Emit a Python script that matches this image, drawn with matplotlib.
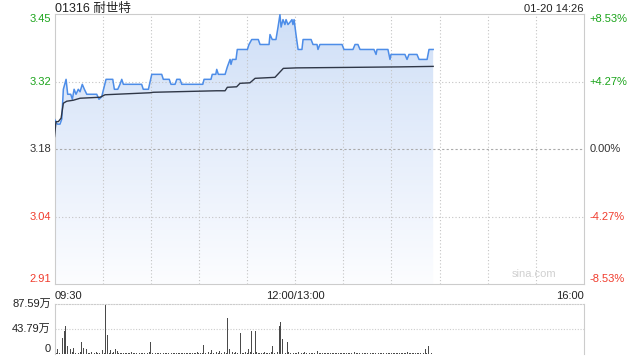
import numpy as np
import matplotlib.pyplot as plt
from matplotlib.patches import Polygon

plt.rcParams['font.family'] = ['Liberation Sans', 'Noto Sans CJK SC', 'DejaVu Sans']

# quote info
code_name = "01316 耐世特"
stamp = "01-20 14:26"
prev_close = 3.18
pct_range = 0.0853

# minute index (09:30 = 0, lunch removed) and last price
price_t = [0, 1.7, 3.4, 4.5, 5.5, 7.2, 8.2, 10.1, 11.1, 12.2, 13.4, 14.8, 15.9, 17.3, 18.6,
           20.1, 26.3, 27.7, 29.4, 32.1, 36.3, 37.3, 39.4, 40.8, 41.9, 42.9, 54.3, 55.3, 58.5,
           60.6, 66.8, 67.8, 71.5, 72.6, 75.1, 76.2, 78.2, 79.3, 92.4, 93.2, 97.5, 98.3, 100.5,
           101.1, 102.1, 106.3, 107.7, 109.4, 110, 110.8, 113.1, 113.9, 120.2, 121.2, 122.9,
           127, 128.1, 133.7, 134.3, 135.7, 138, 139.3, 140.5, 141.2, 142.4, 143.6, 144.3,
           145.5, 146.8, 148, 148.6, 149.3, 150.5, 151.8, 154.2, 154.9, 159.9, 161.1, 163.6,
           164.2, 165.4, 179.2, 180.4, 186, 187.3, 189.1, 190.4, 199.1, 200.4, 201, 207.8,
           209.1, 209.7, 218.4, 219.7, 220.9, 225.9, 227.2, 232.2, 233.4, 236]
price_v = [3.24, 3.23, 3.23, 3.24, 3.30, 3.32, 3.29, 3.29, 3.28, 3.30, 3.29, 3.30, 3.295, 3.31, 3.30,
           3.29, 3.29, 3.28, 3.285, 3.32, 3.32, 3.30, 3.30, 3.31, 3.32, 3.31, 3.31, 3.30, 3.30,
           3.33, 3.33, 3.32, 3.32, 3.31, 3.31, 3.32, 3.32, 3.31, 3.31, 3.32, 3.32, 3.33, 3.33,
           3.34, 3.33, 3.33, 3.345, 3.36, 3.35, 3.36, 3.36, 3.38, 3.38, 3.39, 3.40,
           3.40, 3.39, 3.39, 3.41, 3.40, 3.40, 3.425, 3.45, 3.425, 3.44, 3.43, 3.44,
           3.43, 3.435, 3.44, 3.43, 3.44, 3.41, 3.38, 3.38, 3.40, 3.40, 3.39, 3.39,
           3.38, 3.39, 3.39, 3.38, 3.38, 3.39, 3.39, 3.38, 3.38, 3.37, 3.38, 3.38,
           3.36, 3.37, 3.37, 3.36, 3.37, 3.37, 3.36, 3.36, 3.38, 3.38]

# average price line
avg_t = [0, 0.9, 2.4, 4.1, 5.5, 7.6, 11.7, 15.9, 28.4, 31.5, 59.5, 61.6, 101, 106.3, 107.7,
         113.5, 115.6, 121.8, 125, 137.4, 142.6, 150.9, 184.2, 215.3, 236]
avg_v = [3.205, 3.235, 3.235, 3.242, 3.272, 3.276, 3.278, 3.282, 3.284, 3.289, 3.293, 3.294,
         3.297, 3.297, 3.304, 3.305, 3.312, 3.313, 3.322, 3.324, 3.342, 3.343, 3.344, 3.345, 3.346]

# volume per minute, in 万
volume = [5, 3, 10, 2, 3, 29, 40, 50, 14, 3, 10, 4, 12, 3, 8, 2, 4, 21, 11, 4,
          9, 3, 2, 4, 3, 2, 5, 3, 2, 3, 8, 2, 87, 34, 3, 7, 2, 4, 10, 6,
          3, 2, 3, 2, 2, 3, 2, 2, 5, 3, 2, 2, 3, 2, 2, 3, 2, 2, 3, 4,
          22, 3, 49, 3, 2, 2, 3, 2, 2, 3, 2, 2, 3, 2, 2, 3, 2, 2, 3, 2,
          2, 3, 2, 2, 3, 2, 2, 3, 2, 4, 2, 3, 2, 17, 3, 2, 4, 2, 8, 3,
          2, 4, 3, 6, 3, 2, 4, 3, 64, 10, 3, 4, 2, 5, 3, 21, 38, 3, 2, 4,
          3, 9, 4, 41, 3, 40, 5, 3, 2, 3, 2, 4, 2, 3, 2, 4, 14, 3, 2, 4,
          50, 56, 27, 21, 3, 21, 4, 3, 2, 3, 3, 2, 5, 3, 2, 3, 5, 2, 3, 2,
          3, 2, 2, 3, 6, 2, 3, 2, 2, 3, 2, 2, 3, 2, 2, 3, 2, 2, 3, 2,
          2, 3, 2, 2, 3, 2, 3, 5, 2, 3, 2, 2, 3, 2, 2, 3, 2, 2, 3, 2,
          2, 3, 2, 2, 3, 2, 2, 3, 2, 2, 3, 2, 2, 3, 2, 2, 3, 2, 2, 3,
          4, 2, 3, 2, 2, 3, 2, 2, 3, 2, 2, 9, 3, 14, 7, 2, 1]
vol_ticks = [0, 43.79, 87.59]
vol_labels = ["0", "43.79万", "87.59万"]

x_labels = ["09:30", "12:00/13:00", "16:00"]

green = "#1ba41b"
red = "#f03c2d"
grey = "#cccccc"

fig = plt.figure(figsize=(6.4, 3.6), dpi=100)
ax = fig.add_axes([0.0852, 0.2111, 0.8273, 0.75])
av = fig.add_axes([0.0852, 0.0153, 0.8273, 0.1403])

lo = prev_close * (1 - pct_range)
hi = prev_close * (1 + pct_range)
ax.set_xlim(0, 330)
ax.set_ylim(lo, hi)

# gradient fill under price
poly = Polygon(list(zip(price_t, price_v)) + [(price_t[-1], lo), (price_t[0], lo)],
               closed=True, facecolor='none', edgecolor='none')
ax.add_patch(poly)
grad = np.linspace(0, 1, 256).reshape(-1, 1)
cmap = plt.matplotlib.colors.LinearSegmentedColormap.from_list(
    "f", ["#fcfdff", "#e6eefb", "#cfdff7"])
im = ax.imshow(grad, extent=[0, 330, lo, hi], origin='lower', aspect='auto',
               cmap=cmap, zorder=1)
im.set_clip_path(poly)

ax.plot(price_t, price_v, color="#4d8de8", lw=1.1, zorder=3)
ax.plot(avg_t, avg_v, color="#2f3747", lw=1.0, zorder=3)

# grid, drawn over the fill
for k in range(1, 11):
    ax.axvline(k * 30, color="#c4c4c4", lw=0.8, ls=(0, (1, 2)), zorder=2)
levels = [prev_close * (1 + pct_range * f) for f in (1, 0.5, 0, -0.5, -1)]
for i, lv in enumerate(levels):
    if i in (1, 3):
        ax.axhline(lv, color="#c4c4c4", lw=0.8, ls=(0, (1, 2)), zorder=2)
    elif i == 2:
        ax.axhline(lv, color="#aaaaaa", lw=0.8, ls=(0, (2, 2)), zorder=2)

for s in ax.spines.values():
    s.set_color(grey)
ax.set_xticks([])
ax.set_yticks([])

left_txt = ["%.2f" % lv for lv in levels]
right_txt = ["+8.53%", "+4.27%", "0.00%", "-4.27%", "-8.53%"]
cols = [green, green, "#333333", red, red]
vas = ["top", "center", "center", "center", "bottom"]
tr = ax.get_yaxis_transform()
for lv, lt, rt, c, va in zip(levels, left_txt, right_txt, cols, vas):
    ax.text(-0.007, lv, lt, transform=tr, ha='right', va=va, color=c, fontsize=8)
    ax.text(1.011, lv, rt, transform=tr, ha='left', va=va, color=c, fontsize=8)

ax.text(0, 1.009, code_name, transform=ax.transAxes, ha='left', va='baseline',
        fontsize=9, color="#222222")
ax.text(1, 1.009, stamp, transform=ax.transAxes, ha='right', va='baseline',
        fontsize=8, color="#222222")
ax.text(0.905, 0.018, "sina.com", transform=ax.transAxes, ha='center', va='bottom',
        fontsize=8, color="#d0d0d0")

ax.text(0, -0.025, x_labels[0], transform=ax.transAxes, ha='left', va='top', fontsize=8, color="#222222")
ax.text(150 / 330, -0.025, x_labels[1], transform=ax.transAxes, ha='center', va='top', fontsize=8, color="#222222")
ax.text(1, -0.025, x_labels[2], transform=ax.transAxes, ha='right', va='top', fontsize=8, color="#222222")

# volume
av.set_xlim(0, 330)
av.set_ylim(0, vol_ticks[-1])
av.bar(np.arange(len(volume)), volume, width=0.55, color="#4a4a4a", zorder=2)
av.axhline(vol_ticks[1], color=grey, lw=0.8, ls=(0, (1, 1.5)), zorder=0)
av.spines['top'].set_linestyle((0, (1, 1.5)))
for s in av.spines.values():
    s.set_color(grey)
av.spines['bottom'].set_visible(False)
av.set_xticks([])
av.set_yticks([])
vtr = av.get_yaxis_transform()
for v, lab in zip(vol_ticks, vol_labels):
    av.text(-0.007, v, lab, transform=vtr, ha='right', va='center' if v > 0 else 'bottom',
            fontsize=8, color="#222222")

fig.savefig("out.png", dpi=100)
